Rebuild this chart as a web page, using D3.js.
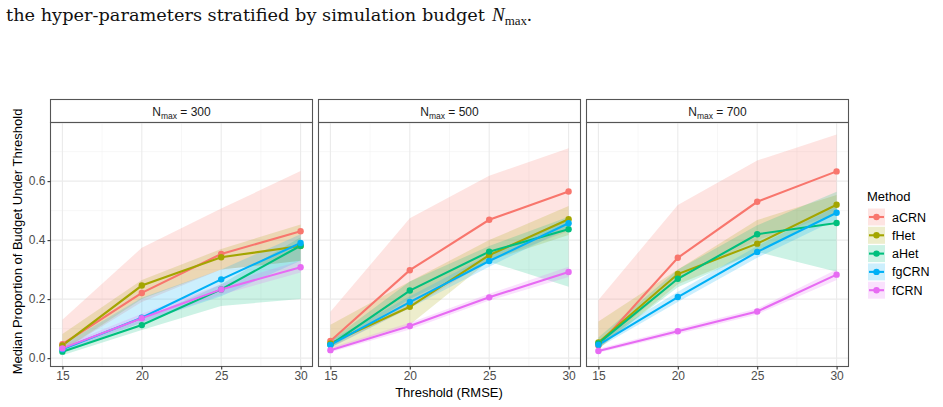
<!DOCTYPE html>
<html>
<head>
<meta charset="utf-8">
<script src="https://cdn.jsdelivr.net/npm/d3@7"></script>
<style>
  body { margin: 0; background: #fff; }
  svg { display: block; }
  text { font-family: "Liberation Sans", Arial, Helvetica, sans-serif; }
</style>
</head>
<body>
<svg id="chart" width="943" height="407"></svg>
<script>
// ---------------- DATA ----------------
const thresholds = [15, 20, 25, 30];
const budgets = [300, 500, 700];
const methods = ["aCRN", "fHet", "aHet", "fgCRN", "fCRN"];
const colors = ["#F8766D", "#A3A500", "#00BF7D", "#00B0F6", "#E76BF3"];
const yTicks = [0.0, 0.2, 0.4, 0.6];
const yMinor = [0.1, 0.3, 0.5, 0.7];
const xMinor = [17.5, 22.5, 27.5];

// medians, rows follow `methods`, columns follow `thresholds`
const med300 = [
  [0.047, 0.221, 0.353, 0.430],
  [0.043, 0.246, 0.342, 0.380],
  [0.022, 0.112, 0.233, 0.381],
  [0.030, 0.137, 0.267, 0.390],
  [0.033, 0.135, 0.233, 0.308]
];
const lo300 = [
  [0.025, 0.190, 0.300, 0.330],
  [0.025, 0.200, 0.300, 0.330],
  [0.010, 0.095, 0.177, 0.200],
  [0.020, 0.120, 0.210, 0.330],
  [0.025, 0.120, 0.215, 0.290]
];
const hi300 = [
  [0.130, 0.374, 0.507, 0.634],
  [0.082, 0.265, 0.370, 0.453],
  [0.035, 0.130, 0.250, 0.410],
  [0.045, 0.205, 0.300, 0.420],
  [0.042, 0.150, 0.250, 0.330]
];

const med500 = [
  [0.058, 0.298, 0.469, 0.565],
  [0.050, 0.174, 0.349, 0.471],
  [0.045, 0.229, 0.361, 0.437],
  [0.045, 0.190, 0.329, 0.457],
  [0.027, 0.109, 0.206, 0.292]
];
const lo500 = [
  [0.035, 0.170, 0.330, 0.430],
  [0.030, 0.113, 0.330, 0.417],
  [0.035, 0.200, 0.327, 0.242],
  [0.035, 0.170, 0.310, 0.440],
  [0.020, 0.097, 0.195, 0.275]
];
const hi500 = [
  [0.157, 0.474, 0.618, 0.711],
  [0.113, 0.260, 0.400, 0.516],
  [0.060, 0.260, 0.380, 0.479],
  [0.060, 0.210, 0.350, 0.475],
  [0.035, 0.120, 0.218, 0.310]
];

const med700 = [
  [0.043, 0.340, 0.530, 0.633],
  [0.053, 0.285, 0.388, 0.520],
  [0.050, 0.269, 0.420, 0.458],
  [0.045, 0.207, 0.360, 0.493],
  [0.024, 0.091, 0.158, 0.283]
];
const lo700 = [
  [0.030, 0.270, 0.400, 0.490],
  [0.030, 0.250, 0.360, 0.490],
  [0.035, 0.240, 0.360, 0.293],
  [0.035, 0.190, 0.340, 0.470],
  [0.018, 0.082, 0.148, 0.265]
];
const hi700 = [
  [0.197, 0.519, 0.670, 0.758],
  [0.124, 0.300, 0.468, 0.553],
  [0.070, 0.300, 0.450, 0.564],
  [0.060, 0.225, 0.380, 0.515],
  [0.032, 0.100, 0.168, 0.300]
];

const panelData = [
  { budget: budgets[0], med: med300, lo: lo300, hi: hi300 },
  { budget: budgets[1], med: med500, lo: lo500, hi: hi500 },
  { budget: budgets[2], med: med700, lo: lo700, hi: hi700 }
];

// ---------------- LAYOUT ----------------
const svg = d3.select("#chart");
const panelLefts = [50.5, 318.5, 586.5];
const panelW = 262;
const stripTop = 99.5, stripH = 23, panelTop = 122.5, panelBottom = 366.5;

const y = d3.scaleLinear().domain([-0.0284, 0.7987]).range([panelBottom, panelTop]);

// caption line at top
svg.append("text")
  .attr("x", 6).attr("y", 21)
  .style("font-family", "'DejaVu Serif','Liberation Serif',serif")
  .style("font-size", "17.5px")
  .attr("fill", "#111")
  .attr("textLength", 479)
  .attr("lengthAdjust", "spacingAndGlyphs")
  .text("the hyper-parameters stratified by simulation budget");
const cap = svg.append("text")
  .attr("x", 492).attr("y", 21)
  .style("font-family", "'Liberation Serif','DejaVu Serif',serif")
  .style("font-size", "19px")
  .attr("fill", "#111");
cap.append("tspan").style("font-style", "italic").text("N");
cap.append("tspan").attr("dy", 4).style("font-size", "13px").text("max");
cap.append("tspan").attr("dy", -4).text(".");

panelData.forEach((pd, pi) => {
  const left = panelLefts[pi];
  const x = d3.scaleLinear().domain([14.25, 30.75]).range([left, left + panelW]);
  const g = svg.append("g");

  // strip
  g.append("rect").attr("x", left).attr("y", stripTop).attr("width", panelW).attr("height", stripH)
    .attr("fill", "#fff").attr("stroke", "#555").attr("stroke-width", 1.1);
  const st = g.append("text").attr("x", left + panelW / 2).attr("y", stripTop + 16.5)
    .attr("text-anchor", "middle").style("font-size", "12px").attr("fill", "#1A1A1A");
  st.append("tspan").text("N");
  st.append("tspan").attr("dy", 2.5).style("font-size", "8.5px").text("max");
  st.append("tspan").attr("dy", -2.5).text(" = " + pd.budget);

  // grid
  const grid = g.append("g");
  yMinor.forEach(v => grid.append("line").attr("x1", left).attr("x2", left + panelW)
    .attr("y1", y(v)).attr("y2", y(v)).attr("stroke", "#F2F2F2").attr("stroke-width", 0.6));
  xMinor.forEach(v => grid.append("line").attr("x1", x(v)).attr("x2", x(v))
    .attr("y1", panelTop).attr("y2", panelBottom).attr("stroke", "#F2F2F2").attr("stroke-width", 0.6));
  yTicks.forEach(v => grid.append("line").attr("x1", left).attr("x2", left + panelW)
    .attr("y1", y(v)).attr("y2", y(v)).attr("stroke", "#EBEBEB").attr("stroke-width", 1.1));
  thresholds.forEach(v => grid.append("line").attr("x1", x(v)).attr("x2", x(v))
    .attr("y1", panelTop).attr("y2", panelBottom).attr("stroke", "#EBEBEB").attr("stroke-width", 1.1));

  // ribbons
  const area = d3.area().x(d => x(d.t)).y0(d => y(d.lo)).y1(d => y(d.hi));
  methods.forEach((m, mi) => {
    const rows = thresholds.map((t, ti) => ({ t, lo: pd.lo[mi][ti], hi: pd.hi[mi][ti] }));
    g.append("path").attr("d", area(rows)).attr("fill", colors[mi]).attr("fill-opacity", 0.2);
  });
  // lines
  const line = d3.line().x(d => x(d.t)).y(d => y(d.v));
  methods.forEach((m, mi) => {
    const rows = thresholds.map((t, ti) => ({ t, v: pd.med[mi][ti] }));
    g.append("path").attr("d", line(rows)).attr("fill", "none")
      .attr("stroke", colors[mi]).attr("stroke-width", 2.1);
  });
  // points
  methods.forEach((m, mi) => {
    thresholds.forEach((t, ti) => {
      g.append("circle").attr("cx", x(t)).attr("cy", y(pd.med[mi][ti])).attr("r", 3.2)
        .attr("fill", colors[mi]);
    });
  });

  // panel border
  g.append("rect").attr("x", left).attr("y", panelTop).attr("width", panelW).attr("height", panelBottom - panelTop)
    .attr("fill", "none").attr("stroke", "#555").attr("stroke-width", 1.1);

  // x axis
  const xa = g.append("g").attr("transform", `translate(0,${panelBottom})`)
    .call(d3.axisBottom(x).tickValues(thresholds).tickSize(3).tickPadding(2).tickFormat(d3.format("d")));
  xa.select(".domain").remove();
  xa.selectAll("line").attr("stroke", "#333").attr("stroke-width", 1.1);
  xa.selectAll("text").style("font-size", "12px").attr("fill", "#4D4D4D")
    .style("font-family", "'Liberation Sans', Arial, sans-serif");

  if (pi === 0) {
    const ya = g.append("g").attr("transform", `translate(${left},0)`)
      .call(d3.axisLeft(y).tickValues(yTicks).tickSize(3).tickPadding(2).tickFormat(d3.format(".1f")));
    ya.select(".domain").remove();
    ya.selectAll("line").attr("stroke", "#333").attr("stroke-width", 1.1);
    ya.selectAll("text").style("font-size", "12px").attr("fill", "#4D4D4D")
      .style("font-family", "'Liberation Sans', Arial, sans-serif");
  }
});

// axis titles
svg.append("text").attr("x", 449).attr("y", 397).attr("text-anchor", "middle")
  .style("font-size", "13px").attr("fill", "#000").text("Threshold (RMSE)");
svg.append("text").attr("transform", `translate(22,${(panelTop + panelBottom) / 2 - 3}) rotate(-90)`)
  .attr("text-anchor", "middle").style("font-size", "13px").attr("fill", "#000")
  .text("Median Proportion of Budget Under Threshold");

// legend
const lg = svg.append("g");
lg.append("text").attr("x", 867).attr("y", 201).style("font-size", "13px").attr("fill", "#000").text("Method");
methods.forEach((m, mi) => {
  const cy = 217 + mi * 18.3;
  lg.append("rect").attr("x", 868).attr("y", cy - 8.5).attr("width", 17).attr("height", 17)
    .attr("fill", colors[mi]).attr("fill-opacity", 0.2);
  lg.append("line").attr("x1", 869).attr("x2", 884).attr("y1", cy).attr("y2", cy)
    .attr("stroke", colors[mi]).attr("stroke-width", 2.1);
  lg.append("circle").attr("cx", 876.5).attr("cy", cy).attr("r", 3.2).attr("fill", colors[mi]);
  lg.append("text").attr("x", 892).attr("y", cy + 4.5).style("font-size", "12.5px").attr("fill", "#000").text(m);
});
</script>
</body>
</html>
